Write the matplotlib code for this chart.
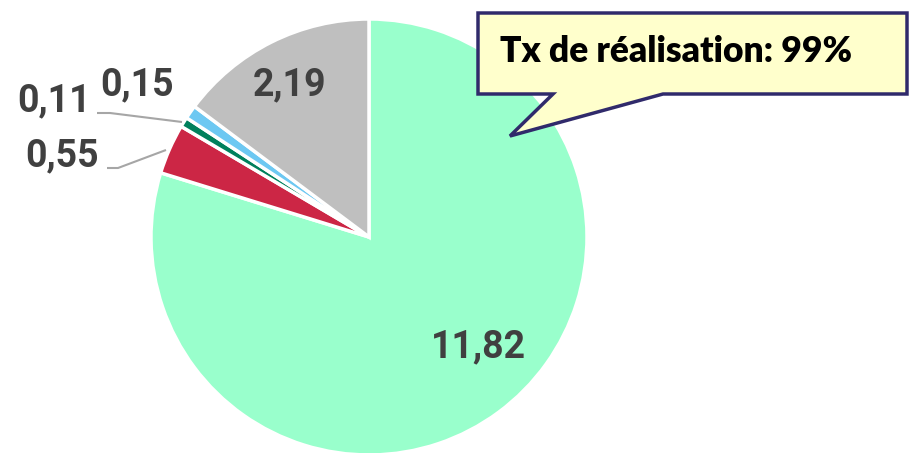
import numpy as np
import matplotlib
matplotlib.use('Agg')
import matplotlib.pyplot as plt
from matplotlib.patches import Polygon

W, H = 910, 453

# ── Data ──────────────────────────────────────────────────────────────────────
values = [11.82, 0.55, 0.11, 0.15, 2.19]
labels = ['11,82', '0,55', '0,11', '0,15', '2,19']
colors = ['#99FFCC', '#CC2645', '#00805C', '#6DC8F2', '#BFBFBF']
callout_text = 'Tx de réalisation: 99%'

# label positions in pixels (x, y from top)
label_pos = [(478, 347), (62, 156), (54, 101), (137, 85), (290, 85)]
leaders = {1: [(107, 168), (118, 168), (166, 150)],
           2: [(97, 113), (110, 113), (182, 122)]}

def py(y):
    return H - y

# ── Plot ──────────────────────────────────────────────────────────────────────
fig = plt.figure(figsize=(W / 100, H / 100), dpi=100)
ax = fig.add_axes([0, 0, 1, 1])

ax.pie(values, colors=colors, startangle=90, counterclock=False,
       center=(369, py(237)), radius=218, frame=True,
       wedgeprops=dict(edgecolor='white', linewidth=2.5))
ax.set_xlim(0, W)
ax.set_ylim(0, H)
ax.set_aspect('equal')
ax.axis('off')

for lab, (x, y) in zip(labels, label_pos):
    ax.text(x, py(y), lab, ha='center', va='center', fontsize=27,
            fontweight='bold', family='Roboto', color='#404040')

for pts in leaders.values():
    xs = [p[0] for p in pts]
    ys = [py(p[1]) for p in pts]
    ax.plot(xs, ys, color='#A6A6A6', lw=1.5, solid_capstyle='butt')

# callout bubble
bubble = [(478, 13), (907, 13), (907, 94), (663, 94), (510, 136),
          (553, 94), (478, 94)]
ax.add_patch(Polygon([(x, py(y)) for x, y in bubble], closed=True,
                     facecolor='#FFFFCC', edgecolor='#302A6B', lw=2.5,
                     joinstyle='miter', zorder=5))
ax.text(500, py(51), callout_text, ha='left', va='center', fontsize=25.5,
        fontweight='heavy', family='Lato', color='black', zorder=6)

fig.savefig('out.png', dpi=100)
